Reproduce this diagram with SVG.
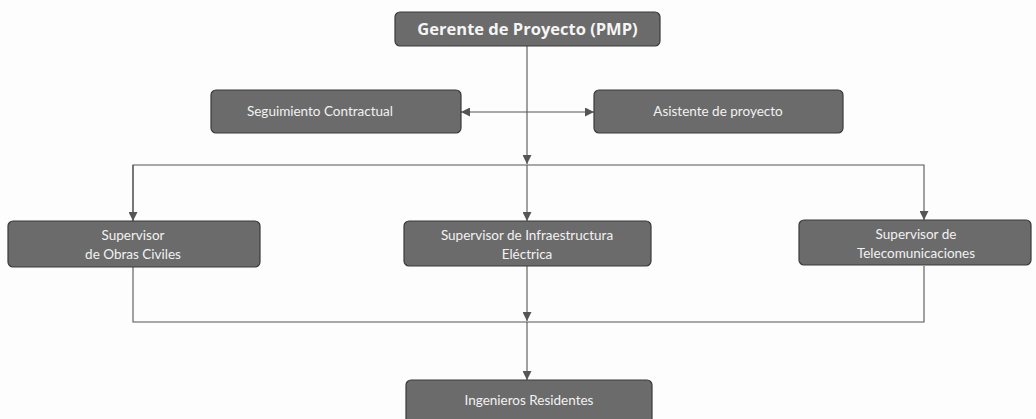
<svg xmlns="http://www.w3.org/2000/svg" width="1036" height="419" viewBox="0 0 1036 419">
<defs>
<marker id="arr" viewBox="0 0 10 10" refX="10" refY="5" markerWidth="9" markerHeight="9" markerUnits="userSpaceOnUse" orient="auto">
<path d="M0,0 L10,5 L0,10 Z" fill="#555"/>
</marker>
<marker id="arrs" viewBox="0 0 10 10" refX="0" refY="5" markerWidth="9" markerHeight="9" markerUnits="userSpaceOnUse" orient="auto">
<path d="M10,0 L0,5 L10,10 Z" fill="#555"/>
</marker>
</defs>
<style>
.box{fill:#6b6b6b;stroke:#3a3a3a;stroke-width:1.2}
.t{font-family:Lato,"Liberation Sans",sans-serif;font-size:13.5px;fill:#f2f2f2;text-anchor:middle}
.tb{font-family:"Open Sans","Liberation Sans",sans-serif;font-size:16.5px;font-weight:bold;fill:#f5f5f5;text-anchor:middle}
.c{stroke:#555;stroke-width:1.1;fill:none}
</style>
<rect width="1036" height="419" fill="#fdfdfd"/>
<g id="connectors">
<line class="c" x1="527" y1="46" x2="527" y2="164" marker-end="url(#arr)"/>
<line class="c" x1="461" y1="112" x2="594" y2="112" marker-start="url(#arrs)" marker-end="url(#arr)"/>
<polyline class="c" points="133,221 133,165 924,165 924,220" marker-end="url(#arr)"/>
<line class="c" x1="133" y1="165" x2="133" y2="221" marker-end="url(#arr)"/>
<line class="c" x1="527" y1="165" x2="527" y2="221" marker-end="url(#arr)"/>
<polyline class="c" points="133,267 133,322 924,322 924,266"/>
<line class="c" x1="527" y1="266" x2="527" y2="321" marker-end="url(#arr)"/>
<line class="c" x1="527" y1="322" x2="527" y2="380" marker-end="url(#arr)"/>
</g>
<g id="gerente">
<rect class="box" x="395" y="12" width="265" height="34" rx="5"/>
<text class="tb" x="527.5" y="35">Gerente de Proyecto (PMP)</text>
</g>
<g id="seguimiento">
<rect class="box" x="211" y="90" width="250" height="43" rx="5"/>
<text class="t" x="320" y="116">Seguimiento Contractual</text>
</g>
<g id="asistente">
<rect class="box" x="594" y="90" width="249" height="43" rx="5"/>
<text class="t" x="718" y="116">Asistente de proyecto</text>
</g>
<g id="obras">
<rect class="box" x="8" y="221" width="252" height="46" rx="5"/>
<text class="t" x="133" y="240">Supervisor</text>
<text class="t" x="133" y="259">de Obras Civiles</text>
</g>
<g id="electrica">
<rect class="box" x="404" y="221" width="247" height="45" rx="5"/>
<text class="t" x="527" y="240">Supervisor de Infraestructura</text>
<text class="t" x="527" y="259">Eléctrica</text>
</g>
<g id="telecom">
<rect class="box" x="799" y="220" width="232" height="45" rx="5"/>
<text class="t" x="916" y="239">Supervisor de</text>
<text class="t" x="916" y="258">Telecomunicaciones</text>
</g>
<g id="ingenieros">
<rect class="box" x="406" y="380" width="246" height="44" rx="5"/>
<text class="t" x="529" y="405">Ingenieros Residentes</text>
</g>
</svg>
